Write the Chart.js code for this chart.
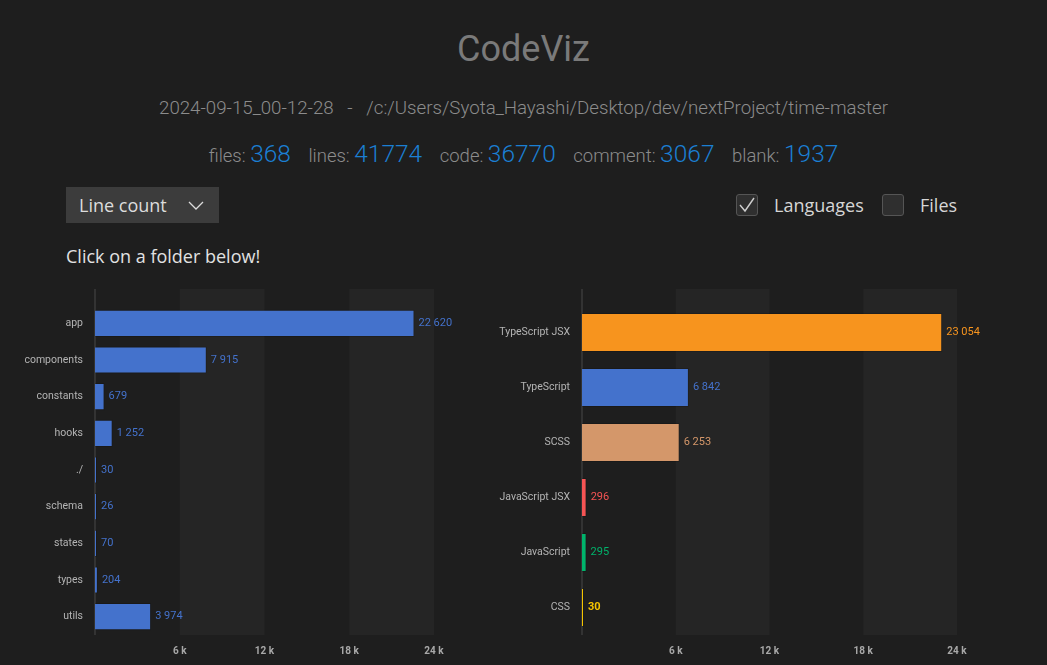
<!DOCTYPE html>
<html>
<head>
<meta charset="utf-8">
<script src="https://cdn.jsdelivr.net/npm/chart.js@4.4.1/dist/chart.umd.min.js"></script>
<style>
  html, body { margin: 0; padding: 0; background: #1e1e1e; width: 1047px; height: 665px; overflow: hidden; }
  body { position: relative; font-family: Roboto, sans-serif; }
  .title { position: absolute; top: 28px; left: 0; width: 1047px; text-align: center; font-size: 36px; color: #7a7a7a; }
  .sub { position: absolute; top: 97px; left: 0; width: 1047px; text-align: center; font-size: 18.7px; font-weight: 300; color: #8c8c8c; white-space: pre; }
  .stats { position: absolute; top: 139px; left: 0; width: 1047px; text-align: center; font-size: 18.5px; font-weight: 300; color: #8c8c8c; }
  .stats b { font-weight: 300; font-size: 24.5px; color: #1b7fd3; margin-right: 13px; }
  .stats b:last-child { margin-right: 0; }
  .select { position: absolute; left: 66px; top: 187px; width: 153px; height: 36px; background: #3c3c3c; color: #dcdcdc;
            font-family: "Open Sans", sans-serif; font-size: 18px; line-height: 36px; box-sizing: border-box; padding-left: 13px; }
  .select svg { position: absolute; left: 122px; top: 14px; }
  .hint { position: absolute; left: 66px; top: 244px; font-family: "Open Sans", sans-serif; font-size: 18px; color: #e2e2e2; }
  .check { position: absolute; top: 193px; font-family: "Open Sans", sans-serif; font-size: 18px; color: #d6d6d6; line-height: 24px; }
  .box { position: absolute; top: 1px; left: 0; width: 20px; height: 20px; border: 1px solid #555; border-radius: 3px; background: #2f2f2f; }
  .check span { position: absolute; left: 38px; top: 0; white-space: nowrap; }
  .chart { position: absolute; top: 280px; height: 385px; }
</style>
</head>
<body>
<div class="title">CodeViz</div>
<div class="sub">2024-09-15_00-12-28   -   /c:/Users/Syota_Hayashi/Desktop/dev/nextProject/time-master</div>
<div class="stats">files: <b>368</b> lines: <b>41774</b> code: <b>36770</b> comment: <b>3067</b> blank: <b>1937</b></div>
<div class="select">Line count
  <svg width="16" height="10" viewBox="0 0 16 10"><polyline points="1,1 8,8 15,1" fill="none" stroke="#dcdcdc" stroke-width="1.3"/></svg>
</div>
<div class="check" style="left:736px;">
  <div class="box"><svg width="20" height="20" viewBox="0 0 20 20"><polyline points="3,10 8,16 17,3" fill="none" stroke="#cfcfcf" stroke-width="1.4"/></svg></div>
  <span>Languages</span>
</div>
<div class="check" style="left:882px;">
  <div class="box"></div>
  <span>Files</span>
</div>
<div class="hint">Click on a folder below!</div>

<div class="chart" style="left:0; width:460px;"><canvas id="folderChart"></canvas></div>
<div class="chart" style="left:480px; width:520px;"><canvas id="langChart"></canvas></div>

<script>
// dados
const folderNames = ['app', 'components', 'constants', 'hooks', './', 'schema', 'states', 'types', 'utils'];
const folderLines = [22620, 7915, 679, 1252, 30, 26, 70, 204, 3974];

const langNames = ['TypeScript JSX', 'TypeScript', 'SCSS', 'JavaScript JSX', 'JavaScript', 'CSS'];
const langLines = [23054, 6842, 6253, 296, 295, 30];
const langColors = ['#f7941e', '#4472cc', '#d4976a', '#f55454', '#00b36b', '#f5c400'];

const folderColor = '#4472cc';
const tickValues = [6000, 12000, 18000, 24000];

const fmt = (v) => String(v).replace(/\B(?=(\d{3})+(?!\d))/g, ' ');

/* faixas alternadas + linha do eixo */
const bandsPlugin = {
  id: 'bands',
  beforeDatasetsDraw(chart) {
    const { ctx, chartArea: a, scales: { x } } = chart;
    const top = a.top - 16;
    ctx.save();
    ctx.fillStyle = '#252525';
    for (let i = 0; i + 1 < tickValues.length; i += 2) {
      const x0 = x.getPixelForValue(tickValues[i]);
      const x1 = x.getPixelForValue(tickValues[i + 1]);
      ctx.fillRect(x0, top, x1 - x0, a.bottom - top);
    }
    ctx.strokeStyle = '#333333';
    ctx.lineWidth = 2;
    ctx.beginPath();
    ctx.moveTo(a.left, top);
    ctx.lineTo(a.left, a.bottom);
    ctx.stroke();
    ctx.restore();
  }
};

/* rótulos de valor ao lado da barra */
const valuePlugin = {
  id: 'values',
  afterDatasetsDraw(chart) {
    const { ctx } = chart;
    const meta = chart.getDatasetMeta(0);
    const ds = chart.data.datasets[0];
    ctx.save();
    ctx.font = '11px Roboto';
    ctx.textBaseline = 'middle';
    ctx.textAlign = 'left';
    meta.data.forEach((bar, i) => {
      const c = Array.isArray(ds.backgroundColor) ? ds.backgroundColor[i] : ds.backgroundColor;
      ctx.fillStyle = c;
      if (chart.canvas.id === 'langChart' && i === 5) ctx.font = 'bold 11px Roboto';
      ctx.fillText(fmt(ds.data[i]), bar.x + 4, bar.y);
    });
    ctx.restore();
  }
};

function makeChart(id, labels, values, colors, axisWidth, rightPad, barPct) {
  return new Chart(document.getElementById(id), {
    type: 'bar',
    data: {
      labels,
      datasets: [{
        data: values,
        backgroundColor: colors,
        borderColor: 'rgba(0,0,0,0.15)',
        borderWidth: 1,
        borderSkipped: 'left',
        categoryPercentage: 1,
        barPercentage: barPct,
        minBarLength: 2
      }]
    },
    options: {
      indexAxis: 'y',
      responsive: true,
      maintainAspectRatio: false,
      animation: false,
      layout: { padding: { top: 25, right: rightPad, left: 0, bottom: 0 } },
      plugins: { legend: { display: false }, tooltip: { enabled: false } },
      scales: {
        x: {
          min: 0, max: 24000,
          afterBuildTicks: (s) => { s.ticks = [0, ...tickValues].map(v => ({ value: v })); },
          grid: { display: false },
          border: { display: false },
          ticks: {
            color: '#a8a8a8', padding: 2, maxRotation: 0,
            font: { family: 'Roboto', size: 10, weight: 'bold' },
            callback: (v) => v === 0 ? '' : (v / 1000) + ' k'
          },
          afterFit: (s) => { s.height = 30; }
        },
        y: {
          grid: { display: false },
          border: { display: false },
          ticks: { color: '#b4b4b4', padding: 4, font: { family: 'Roboto', size: 10.5 } },
          afterFit: (s) => { s.width = axisWidth; }
        }
      }
    },
    plugins: [bandsPlugin, valuePlugin]
  });
}

makeChart('folderChart', folderNames, folderLines, folderColor, 95, 26, 0.74);
makeChart('langChart', langNames, langLines, langColors, 102, 43, 0.71);
</script>
</body>
</html>
